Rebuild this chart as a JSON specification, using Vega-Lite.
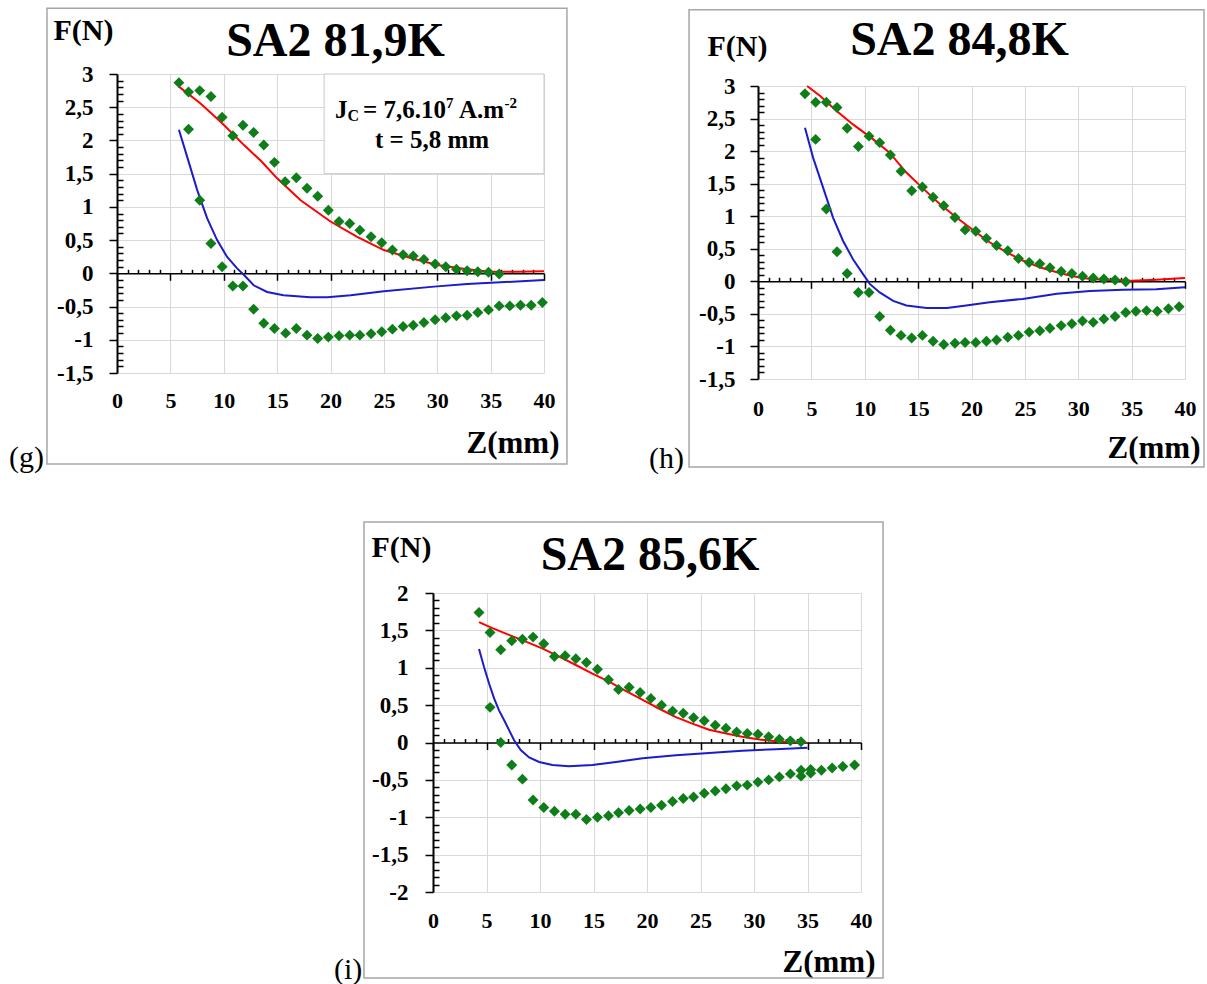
{
"$schema": "https://vega.github.io/schema/vega-lite/v6.json",
"background": "white",
"padding": {"left": 8, "top": 7, "right": 2, "bottom": 2},
"config": {"view": {"stroke": null}},
"datasets": {
"one": [{}],
"gp": [
{"z":5.8,"f":2.87},{"z":6.7,"f":2.73},{"z":7.75,"f":2.75},{"z":8.8,"f":2.66},{"z":9.85,"f":2.35},{"z":10.85,"f":2.07},{"z":11.8,"f":2.23},{"z":12.8,"f":2.12},{"z":13.75,"f":1.93},{"z":14.75,"f":1.67},{"z":15.75,"f":1.38},{"z":16.8,"f":1.44},{"z":17.8,"f":1.28},{"z":18.8,"f":1.16},{"z":19.8,"f":0.95},{"z":20.8,"f":0.78},{"z":21.8,"f":0.75},{"z":22.75,"f":0.65},{"z":23.8,"f":0.55},{"z":24.8,"f":0.46},{"z":25.8,"f":0.35},{"z":26.8,"f":0.28},{"z":27.75,"f":0.26},{"z":28.75,"f":0.21},{"z":29.8,"f":0.14},{"z":30.8,"f":0.1},{"z":31.8,"f":0.06},{"z":32.8,"f":0.04},{"z":33.8,"f":0.025},{"z":34.8,"f":0.015},{"z":35.8,"f":-0.01},
{"z":6.7,"f":2.17},{"z":7.75,"f":1.1},{"z":8.8,"f":0.45},{"z":9.85,"f":0.1},{"z":10.85,"f":-0.19},{"z":11.8,"f":-0.19},{"z":12.8,"f":-0.54},{"z":13.75,"f":-0.75},{"z":14.75,"f":-0.83},{"z":15.8,"f":-0.9},{"z":16.8,"f":-0.83},{"z":17.8,"f":-0.93},{"z":18.8,"f":-0.98},{"z":19.8,"f":-0.96},{"z":20.8,"f":-0.94},{"z":21.8,"f":-0.93},{"z":22.75,"f":-0.93},{"z":23.8,"f":-0.91},{"z":24.8,"f":-0.88},{"z":25.8,"f":-0.84},{"z":26.8,"f":-0.8},{"z":27.75,"f":-0.78},{"z":28.75,"f":-0.74},{"z":29.8,"f":-0.7},{"z":30.8,"f":-0.67},{"z":31.8,"f":-0.64},{"z":32.8,"f":-0.63},{"z":33.8,"f":-0.59},{"z":34.8,"f":-0.55},{"z":35.8,"f":-0.49},{"z":36.8,"f":-0.49},{"z":37.8,"f":-0.48},{"z":38.8,"f":-0.48},{"z":39.85,"f":-0.44}
],
"gl": [
{"z":5.8,"f":2.81,"c":"rouge"},{"z":7.8,"f":2.56,"c":"rouge"},{"z":9.85,"f":2.26,"c":"rouge"},{"z":11.9,"f":1.93,"c":"rouge"},{"z":13.5,"f":1.69,"c":"rouge"},{"z":15,"f":1.43,"c":"rouge"},{"z":17.2,"f":1.1,"c":"rouge"},{"z":20,"f":0.78,"c":"rouge"},{"z":22.5,"f":0.55,"c":"rouge"},{"z":25,"f":0.35,"c":"rouge"},{"z":27.5,"f":0.23,"c":"rouge"},{"z":30,"f":0.125,"c":"rouge"},{"z":32.8,"f":0.06,"c":"rouge"},{"z":35,"f":0.025,"c":"rouge"},{"z":37.5,"f":0.025,"c":"rouge"},{"z":40,"f":0.03,"c":"rouge"},
{"z":5.8,"f":2.16,"c":"bleu"},{"z":6.56,"f":1.76,"c":"bleu"},{"z":7.5,"f":1.26,"c":"bleu"},{"z":8.44,"f":0.83,"c":"bleu"},{"z":9.38,"f":0.5,"c":"bleu"},{"z":10.3,"f":0.25,"c":"bleu"},{"z":11.25,"f":0.075,"c":"bleu"},{"z":11.9,"f":-0.025,"c":"bleu"},{"z":12.8,"f":-0.18,"c":"bleu"},{"z":14.06,"f":-0.28,"c":"bleu"},{"z":15.6,"f":-0.33,"c":"bleu"},{"z":18.1,"f":-0.36,"c":"bleu"},{"z":19.7,"f":-0.36,"c":"bleu"},{"z":21.9,"f":-0.33,"c":"bleu"},{"z":25,"f":-0.27,"c":"bleu"},{"z":29.7,"f":-0.2,"c":"bleu"},{"z":32.8,"f":-0.16,"c":"bleu"},{"z":35.9,"f":-0.135,"c":"bleu"},{"z":40,"f":-0.1,"c":"bleu"}
],
"hp": [
{"z":4.4,"f":2.88},{"z":5.4,"f":2.75},{"z":6.4,"f":2.75},{"z":7.4,"f":2.67},{"z":8.35,"f":2.35},{"z":9.4,"f":2.07},{"z":10.4,"f":2.23},{"z":11.4,"f":2.13},{"z":12.4,"f":1.94},{"z":13.4,"f":1.69},{"z":14.4,"f":1.39},{"z":15.4,"f":1.45},{"z":16.4,"f":1.29},{"z":17.4,"f":1.16},{"z":18.45,"f":0.98},{"z":19.4,"f":0.79},{"z":20.4,"f":0.77},{"z":21.4,"f":0.66},{"z":22.35,"f":0.55},{"z":23.4,"f":0.47},{"z":24.4,"f":0.35},{"z":25.4,"f":0.29},{"z":26.4,"f":0.27},{"z":27.35,"f":0.21},{"z":28.4,"f":0.15},{"z":29.4,"f":0.12},{"z":30.4,"f":0.077},{"z":31.4,"f":0.05},{"z":32.4,"f":0.036},{"z":33.45,"f":0.02},{"z":34.45,"f":-0.005},
{"z":5.4,"f":2.18},{"z":6.4,"f":1.11},{"z":7.4,"f":0.455},{"z":8.35,"f":0.12},{"z":9.4,"f":-0.17},{"z":10.4,"f":-0.17},{"z":11.4,"f":-0.54},{"z":12.4,"f":-0.75},{"z":13.4,"f":-0.83},{"z":14.4,"f":-0.87},{"z":15.4,"f":-0.83},{"z":16.4,"f":-0.92},{"z":17.4,"f":-0.97},{"z":18.45,"f":-0.95},{"z":19.4,"f":-0.94},{"z":20.4,"f":-0.94},{"z":21.4,"f":-0.92},{"z":22.35,"f":-0.9},{"z":23.4,"f":-0.86},{"z":24.4,"f":-0.83},{"z":25.4,"f":-0.78},{"z":26.4,"f":-0.76},{"z":27.35,"f":-0.72},{"z":28.4,"f":-0.68},{"z":29.4,"f":-0.65},{"z":30.4,"f":-0.61},{"z":31.4,"f":-0.63},{"z":32.4,"f":-0.58},{"z":33.45,"f":-0.54},{"z":34.45,"f":-0.48},{"z":35.4,"f":-0.46},{"z":36.4,"f":-0.45},{"z":37.4,"f":-0.46},{"z":38.45,"f":-0.42},{"z":39.45,"f":-0.39}
],
"hl": [
{"z":4.6,"f":3.0,"c":"rouge"},{"z":5.8,"f":2.85,"c":"rouge"},{"z":7.34,"f":2.62,"c":"rouge"},{"z":8.9,"f":2.41,"c":"rouge"},{"z":10.8,"f":2.18,"c":"rouge"},{"z":12.3,"f":1.98,"c":"rouge"},{"z":13.9,"f":1.67,"c":"rouge"},{"z":15.5,"f":1.42,"c":"rouge"},{"z":17,"f":1.19,"c":"rouge"},{"z":18.6,"f":0.98,"c":"rouge"},{"z":20.2,"f":0.78,"c":"rouge"},{"z":21.7,"f":0.6,"c":"rouge"},{"z":23.3,"f":0.445,"c":"rouge"},{"z":24.8,"f":0.32,"c":"rouge"},{"z":26.4,"f":0.215,"c":"rouge"},{"z":28,"f":0.14,"c":"rouge"},{"z":29.5,"f":0.077,"c":"rouge"},{"z":31.1,"f":0.036,"c":"rouge"},{"z":32.7,"f":0.02,"c":"rouge"},{"z":35,"f":0.01,"c":"rouge"},{"z":37.3,"f":0.025,"c":"rouge"},{"z":40,"f":0.05,"c":"rouge"},
{"z":4.4,"f":2.36,"c":"bleu"},{"z":5.16,"f":1.9,"c":"bleu"},{"z":6.1,"f":1.44,"c":"bleu"},{"z":7.03,"f":0.98,"c":"bleu"},{"z":7.97,"f":0.62,"c":"bleu"},{"z":8.9,"f":0.34,"c":"bleu"},{"z":9.84,"f":0.11,"c":"bleu"},{"z":10.47,"f":-0.04,"c":"bleu"},{"z":11.4,"f":-0.17,"c":"bleu"},{"z":12.66,"f":-0.3,"c":"bleu"},{"z":13.9,"f":-0.37,"c":"bleu"},{"z":15.8,"f":-0.41,"c":"bleu"},{"z":17.7,"f":-0.41,"c":"bleu"},{"z":19.5,"f":-0.37,"c":"bleu"},{"z":21.7,"f":-0.32,"c":"bleu"},{"z":24.8,"f":-0.27,"c":"bleu"},{"z":28,"f":-0.19,"c":"bleu"},{"z":31.1,"f":-0.15,"c":"bleu"},{"z":34.2,"f":-0.13,"c":"bleu"},{"z":37.3,"f":-0.12,"c":"bleu"},{"z":40,"f":-0.09,"c":"bleu"}
],
"ip": [
{"z":4.3,"f":1.74},{"z":5.33,"f":1.47},{"z":6.33,"f":1.24},{"z":7.36,"f":1.36},{"z":8.36,"f":1.38},{"z":9.35,"f":1.41},{"z":10.35,"f":1.32},{"z":11.35,"f":1.15},{"z":12.35,"f":1.16},{"z":13.35,"f":1.12},{"z":14.34,"f":1.07},{"z":15.37,"f":0.98},{"z":16.4,"f":0.84},{"z":17.34,"f":0.71},{"z":18.33,"f":0.74},{"z":19.36,"f":0.67},{"z":20.36,"f":0.59},{"z":21.36,"f":0.5},{"z":22.39,"f":0.42},{"z":23.39,"f":0.39},{"z":24.35,"f":0.33},{"z":25.35,"f":0.29},{"z":26.38,"f":0.23},{"z":27.38,"f":0.19},{"z":28.38,"f":0.14},{"z":29.37,"f":0.12},{"z":30.37,"f":0.11},{"z":31.37,"f":0.076},{"z":32.37,"f":0.045},{"z":33.4,"f":0.022},{"z":34.39,"f":0.009},
{"z":5.33,"f":0.47},{"z":6.33,"f":0.0},{"z":7.36,"f":-0.3},{"z":8.36,"f":-0.49},{"z":9.35,"f":-0.77},{"z":10.35,"f":-0.87},{"z":11.35,"f":-0.92},{"z":12.35,"f":-0.96},{"z":13.35,"f":-0.96},{"z":14.34,"f":-1.03},{"z":15.37,"f":-1.0},{"z":16.4,"f":-0.98},{"z":17.34,"f":-0.94},{"z":18.33,"f":-0.91},{"z":19.36,"f":-0.89},{"z":20.36,"f":-0.87},{"z":21.36,"f":-0.84},{"z":22.39,"f":-0.79},{"z":23.39,"f":-0.75},{"z":24.35,"f":-0.73},{"z":25.35,"f":-0.68},{"z":26.38,"f":-0.65},{"z":27.38,"f":-0.62},{"z":28.38,"f":-0.58},{"z":29.37,"f":-0.57},{"z":30.37,"f":-0.53},{"z":31.37,"f":-0.5},{"z":32.37,"f":-0.46},{"z":33.4,"f":-0.42},{"z":34.4,"f":-0.45},{"z":34.4,"f":-0.37},{"z":35.3,"f":-0.41},{"z":35.3,"f":-0.36},{"z":36.3,"f":-0.37},{"z":37.3,"f":-0.34},{"z":38.3,"f":-0.32},{"z":39.4,"f":-0.3}
],
"il": [
{"z":4.3,"f":1.61,"c":"rouge"},{"z":5.55,"f":1.53,"c":"rouge"},{"z":7.1,"f":1.44,"c":"rouge"},{"z":8.67,"f":1.35,"c":"rouge"},{"z":10.2,"f":1.26,"c":"rouge"},{"z":11.8,"f":1.15,"c":"rouge"},{"z":13.3,"f":1.04,"c":"rouge"},{"z":14.9,"f":0.92,"c":"rouge"},{"z":16.5,"f":0.81,"c":"rouge"},{"z":18,"f":0.69,"c":"rouge"},{"z":19.6,"f":0.57,"c":"rouge"},{"z":21.1,"f":0.455,"c":"rouge"},{"z":22.7,"f":0.34,"c":"rouge"},{"z":24.3,"f":0.25,"c":"rouge"},{"z":25.8,"f":0.17,"c":"rouge"},{"z":27.4,"f":0.12,"c":"rouge"},{"z":28.9,"f":0.076,"c":"rouge"},{"z":30.5,"f":0.04,"c":"rouge"},{"z":32.05,"f":0.018,"c":"rouge"},{"z":33.6,"f":0.005,"c":"rouge"},{"z":35,"f":-0.005,"c":"rouge"},
{"z":4.3,"f":1.25,"c":"bleu"},{"z":4.77,"f":1.01,"c":"bleu"},{"z":5.24,"f":0.79,"c":"bleu"},{"z":5.71,"f":0.59,"c":"bleu"},{"z":6.17,"f":0.43,"c":"bleu"},{"z":6.64,"f":0.3,"c":"bleu"},{"z":7.11,"f":0.165,"c":"bleu"},{"z":7.58,"f":0.03,"c":"bleu"},{"z":8.2,"f":-0.1,"c":"bleu"},{"z":8.98,"f":-0.2,"c":"bleu"},{"z":9.92,"f":-0.26,"c":"bleu"},{"z":11.16,"f":-0.3,"c":"bleu"},{"z":12.7,"f":-0.317,"c":"bleu"},{"z":14.9,"f":-0.3,"c":"bleu"},{"z":17.1,"f":-0.26,"c":"bleu"},{"z":19.6,"f":-0.21,"c":"bleu"},{"z":22.7,"f":-0.17,"c":"bleu"},{"z":25.8,"f":-0.14,"c":"bleu"},{"z":28.9,"f":-0.11,"c":"bleu"},{"z":32.05,"f":-0.09,"c":"bleu"},{"z":35,"f":-0.07,"c":"bleu"}
]
},
"bounds": "flush",
"spacing": 519,
"vconcat": [
{"bounds": "flush", "spacing": 214, "hconcat": [
{
"width": 427, "height": 299,
"title": {"text": "SA2 81,9K", "font": "Liberation Serif", "fontSize": 48, "fontWeight": "bold", "color": "black", "anchor": "middle", "frame": "group", "baseline": "alphabetic", "offset": -97, "dx": 5},
"resolve": {"axis": {"x": "independent", "y": "independent"}},
"layer": [
{"data": {"name": "one"}, "mark": {"type": "rect", "filled": false, "stroke": "#a6a6a6", "strokeWidth": 1.5},
 "encoding": {
  "x": {"datum": -6.56, "type": "quantitative", "scale": {"domain": [0, 40], "nice": false}, "axis": null},
  "x2": {"datum": 42.15},
  "y": {"datum": 3.99, "type": "quantitative", "scale": {"domain": [-1.5, 3], "nice": false}, "axis": null},
  "y2": {"datum": -2.87}}},
{"data": {"name": "one"}, "mark": {"type": "rect", "fill": "white", "stroke": "#c8c8c8", "strokeWidth": 1},
 "encoding": {
  "x": {"datum": 19.4, "type": "quantitative", "scale": {"domain": [0, 40], "nice": false}, "axis": null},
  "x2": {"datum": 40},
  "y": {"datum": 3, "type": "quantitative", "scale": {"domain": [-1.5, 3], "nice": false}, "axis": null},
  "y2": {"datum": 1.5}}},
{"data": {"name": "gl"},
 "mark": {"type": "line", "strokeWidth": 2},
 "encoding": {
  "x": {"field": "z", "type": "quantitative", "scale": {"domain": [0, 40], "nice": false},
   "axis": {"orient": "bottom", "offset": -99.7, "values": [0,1,2,3,4,5,6,7,8,9,10,11,12,13,14,15,16,17,18,19,20,21,22,23,24,25,26,27,28,29,30,31,32,33,34,35,36,37,38,39,40], "labels": false, "grid": false, "title": null, "domain": true, "domainColor": "black", "domainWidth": 1.5, "ticks": true, "tickColor": "black", "tickWidth": 1.5, "tickSize": {"condition": {"test": "datum.value % 5 === 0", "value": 7}, "value": -4}}},
  "y": {"field": "f", "type": "quantitative", "scale": {"domain": [-1.5, 3], "nice": false}, "axis": null},
  "color": {"field": "c", "type": "nominal", "scale": {"domain": ["rouge", "bleu"], "range": ["#ff0000", "#1c1cc8"]}, "legend": null}}},
{"data": {"name": "gp"},
 "mark": {"type": "point", "shape": "diamond", "filled": true, "color": "#0f7d1a", "size": 120, "opacity": 1},
 "encoding": {
  "x": {"field": "z", "type": "quantitative", "scale": {"domain": [0, 40], "nice": false},
   "axis": {"orient": "bottom", "values": [0,5,10,15,20,25,30,35,40], "domain": false, "ticks": false, "grid": true, "gridColor": "#d9d9d9", "gridWidth": 1, "labelFont": "Liberation Serif", "labelFontSize": 22, "labelFontWeight": "bold", "labelColor": "black", "labelPadding": 17, "labelFlush": false, "labelOverlap": false, "title": "Z(mm)", "titleFont": "Liberation Serif", "titleFontSize": 31, "titleFontWeight": "bold", "titleColor": "black", "titleX": 442, "titleY": 70, "titleAlign": "right", "titleBaseline": "middle"}},
  "y": {"field": "f", "type": "quantitative", "scale": {"domain": [-1.5, 3], "nice": false},
   "axis": {"orient": "left", "values": [-1.5,-1.4,-1.3,-1.2,-1.1,-1,-0.9,-0.8,-0.7,-0.6,-0.5,-0.4,-0.3,-0.2,-0.1,0,0.1,0.2,0.3,0.4,0.5,0.6,0.7,0.8,0.9,1,1.1,1.2,1.3,1.4,1.5,1.6,1.7,1.8,1.9,2,2.1,2.2,2.3,2.4,2.5,2.6,2.7,2.8,2.9,3], "domain": true, "domainColor": "black", "domainWidth": 2, "ticks": true, "tickColor": "black", "tickWidth": 1.5, "tickSize": {"condition": {"test": "abs(datum.value*2 - round(datum.value*2)) < 0.01", "value": 8}, "value": -6}, "grid": true, "gridColor": "#d9d9d9", "gridOpacity": {"condition": {"test": "abs(datum.value*2 - round(datum.value*2)) < 0.01", "value": 1}, "value": 0}, "labelExpr": "abs(datum.value*2 - round(datum.value*2)) < 0.01 ? replace(toString(round(datum.value*10)/10), '.', ',') : ''", "labelFont": "Liberation Serif", "labelFontSize": 23, "labelFontWeight": "bold", "labelColor": "black", "labelPadding": 16, "labelOverlap": false, "labelFlush": false, "title": "F(N)", "titleAngle": 0, "titleAlign": "left", "titleBaseline": "middle", "titleX": -64, "titleY": -44, "titleFont": "Liberation Serif", "titleFontSize": 30, "titleFontWeight": "bold", "titleColor": "black"}}}},
{"data": {"name": "one"}, "mark": {"type": "text", "font": "Liberation Serif", "fontSize": 30, "align": "left", "baseline": "middle", "color": "black"},
 "encoding": {"x": {"datum": -10.12, "type": "quantitative", "scale": {"domain": [0, 40], "nice": false}, "axis": null}, "y": {"datum": -2.78, "type": "quantitative", "scale": {"domain": [-1.5, 3], "nice": false}, "axis": null}, "text": {"value": "(g)"}}},
{"data": {"name": "one"}, "mark": {"type": "text", "font": "Liberation Serif", "fontSize": 25, "fontWeight": "bold", "align": "left", "baseline": "middle", "color": "black"},
 "encoding": {"x": {"datum": 20.42, "type": "quantitative", "scale": {"domain": [0, 40], "nice": false}, "axis": null}, "y": {"datum": 2.458, "type": "quantitative", "scale": {"domain": [-1.5, 3], "nice": false}, "axis": null}, "text": {"value": "J"}}},
{"data": {"name": "one"}, "mark": {"type": "text", "font": "Liberation Serif", "fontSize": 16, "fontWeight": "bold", "align": "left", "baseline": "middle", "color": "black", "dy": 6},
 "encoding": {"x": {"datum": 21.59, "type": "quantitative", "scale": {"domain": [0, 40], "nice": false}, "axis": null}, "y": {"datum": 2.458, "type": "quantitative", "scale": {"domain": [-1.5, 3], "nice": false}, "axis": null}, "text": {"value": "C"}}},
{"data": {"name": "one"}, "mark": {"type": "text", "font": "Liberation Serif", "fontSize": 25, "fontWeight": "bold", "align": "left", "baseline": "middle", "color": "black"},
 "encoding": {"x": {"datum": 23.04, "type": "quantitative", "scale": {"domain": [0, 40], "nice": false}, "axis": null}, "y": {"datum": 2.458, "type": "quantitative", "scale": {"domain": [-1.5, 3], "nice": false}, "axis": null}, "text": {"value": "= 7,6.10"}}},
{"data": {"name": "one"}, "mark": {"type": "text", "font": "Liberation Serif", "fontSize": 15, "fontWeight": "bold", "align": "left", "baseline": "middle", "color": "black", "dy": -7},
 "encoding": {"x": {"datum": 30.82, "type": "quantitative", "scale": {"domain": [0, 40], "nice": false}, "axis": null}, "y": {"datum": 2.458, "type": "quantitative", "scale": {"domain": [-1.5, 3], "nice": false}, "axis": null}, "text": {"value": "7"}}},
{"data": {"name": "one"}, "mark": {"type": "text", "font": "Liberation Serif", "fontSize": 25, "fontWeight": "bold", "align": "left", "baseline": "middle", "color": "black"},
 "encoding": {"x": {"datum": 32.04, "type": "quantitative", "scale": {"domain": [0, 40], "nice": false}, "axis": null}, "y": {"datum": 2.458, "type": "quantitative", "scale": {"domain": [-1.5, 3], "nice": false}, "axis": null}, "text": {"value": "A.m"}}},
{"data": {"name": "one"}, "mark": {"type": "text", "font": "Liberation Serif", "fontSize": 15, "fontWeight": "bold", "align": "left", "baseline": "middle", "color": "black", "dy": -7},
 "encoding": {"x": {"datum": 36.3, "type": "quantitative", "scale": {"domain": [0, 40], "nice": false}, "axis": null}, "y": {"datum": 2.458, "type": "quantitative", "scale": {"domain": [-1.5, 3], "nice": false}, "axis": null}, "text": {"value": "-2"}}},
{"data": {"name": "one"}, "mark": {"type": "text", "font": "Liberation Serif", "fontSize": 25, "fontWeight": "bold", "align": "center", "baseline": "middle", "color": "black"},
 "encoding": {"x": {"datum": 29.51, "type": "quantitative", "scale": {"domain": [0, 40], "nice": false}, "axis": null}, "y": {"datum": 2.007, "type": "quantitative", "scale": {"domain": [-1.5, 3], "nice": false}, "axis": null}, "text": {"value": "t = 5,8 mm"}}}
]
},
{"bounds": "flush", "spacing": 11, "vconcat": [
{"width": 1, "height": 1, "data": {"values": []}, "mark": "point", "encoding": {}},
{
"width": 427, "height": 293,
"title": {"text": "SA2 84,8K", "font": "Liberation Serif", "fontSize": 48, "fontWeight": "bold", "color": "black", "anchor": "middle", "frame": "group", "baseline": "alphabetic", "offset": -94, "dx": -12},
"resolve": {"axis": {"x": "independent", "y": "independent"}},
"layer": [
{"data": {"name": "one"}, "mark": {"type": "rect", "filled": false, "stroke": "#a6a6a6", "strokeWidth": 1.5},
 "encoding": {
  "x": {"datum": -6.46, "type": "quantitative", "scale": {"domain": [0, 40], "nice": false}, "axis": null},
  "x2": {"datum": 41.78},
  "y": {"datum": 4.17, "type": "quantitative", "scale": {"domain": [-1.5, 3], "nice": false}, "axis": null},
  "y2": {"datum": -2.85}}},
{"data": {"name": "hl"},
 "mark": {"type": "line", "strokeWidth": 2},
 "encoding": {
  "x": {"field": "z", "type": "quantitative", "scale": {"domain": [0, 40], "nice": false},
   "axis": {"orient": "bottom", "offset": -97.7, "values": [0,1,2,3,4,5,6,7,8,9,10,11,12,13,14,15,16,17,18,19,20,21,22,23,24,25,26,27,28,29,30,31,32,33,34,35,36,37,38,39,40], "labels": false, "grid": false, "title": null, "domain": true, "domainColor": "black", "domainWidth": 1.5, "ticks": true, "tickColor": "black", "tickWidth": 1.5, "tickSize": {"condition": {"test": "datum.value % 5 === 0", "value": 7}, "value": -4}}},
  "y": {"field": "f", "type": "quantitative", "scale": {"domain": [-1.5, 3], "nice": false}, "axis": null},
  "color": {"field": "c", "type": "nominal", "scale": {"domain": ["rouge", "bleu"], "range": ["#ff0000", "#1c1cc8"]}, "legend": null}}},
{"data": {"name": "hp"},
 "mark": {"type": "point", "shape": "diamond", "filled": true, "color": "#0f7d1a", "size": 120, "opacity": 1},
 "encoding": {
  "x": {"field": "z", "type": "quantitative", "scale": {"domain": [0, 40], "nice": false},
   "axis": {"orient": "bottom", "values": [0,5,10,15,20,25,30,35,40], "domain": false, "ticks": false, "grid": true, "gridColor": "#d9d9d9", "gridWidth": 1, "labelFont": "Liberation Serif", "labelFontSize": 22, "labelFontWeight": "bold", "labelColor": "black", "labelPadding": 19, "labelFlush": false, "labelOverlap": false, "title": "Z(mm)", "titleFont": "Liberation Serif", "titleFontSize": 31, "titleFontWeight": "bold", "titleColor": "black", "titleX": 442, "titleY": 69, "titleAlign": "right", "titleBaseline": "middle"}},
  "y": {"field": "f", "type": "quantitative", "scale": {"domain": [-1.5, 3], "nice": false},
   "axis": {"orient": "left", "values": [-1.5,-1.4,-1.3,-1.2,-1.1,-1,-0.9,-0.8,-0.7,-0.6,-0.5,-0.4,-0.3,-0.2,-0.1,0,0.1,0.2,0.3,0.4,0.5,0.6,0.7,0.8,0.9,1,1.1,1.2,1.3,1.4,1.5,1.6,1.7,1.8,1.9,2,2.1,2.2,2.3,2.4,2.5,2.6,2.7,2.8,2.9,3], "domain": true, "domainColor": "black", "domainWidth": 2, "ticks": true, "tickColor": "black", "tickWidth": 1.5, "tickSize": {"condition": {"test": "abs(datum.value*2 - round(datum.value*2)) < 0.01", "value": 8}, "value": -6}, "grid": true, "gridColor": "#d9d9d9", "gridOpacity": {"condition": {"test": "abs(datum.value*2 - round(datum.value*2)) < 0.01", "value": 1}, "value": 0}, "labelExpr": "abs(datum.value*2 - round(datum.value*2)) < 0.01 ? replace(toString(round(datum.value*10)/10), '.', ',') : ''", "labelFont": "Liberation Serif", "labelFontSize": 23, "labelFontWeight": "bold", "labelColor": "black", "labelPadding": 15, "labelOverlap": false, "labelFlush": false, "title": "F(N)", "titleAngle": 0, "titleAlign": "left", "titleBaseline": "middle", "titleX": -51, "titleY": -40, "titleFont": "Liberation Serif", "titleFontSize": 30, "titleFontWeight": "bold", "titleColor": "black"}}}},
{"data": {"name": "one"}, "mark": {"type": "text", "font": "Liberation Serif", "fontSize": 30, "align": "left", "baseline": "middle", "color": "black"},
 "encoding": {"x": {"datum": -10.2, "type": "quantitative", "scale": {"domain": [0, 40], "nice": false}, "axis": null}, "y": {"datum": -2.73, "type": "quantitative", "scale": {"domain": [-1.5, 3], "nice": false}, "axis": null}, "text": {"value": "(h)"}}}
]
}
]}
]},
{"bounds": "flush", "spacing": 315, "hconcat": [
{"width": 1, "height": 1, "data": {"values": []}, "mark": "point", "encoding": {}},
{
"width": 428, "height": 299,
"title": {"text": "SA2 85,6K", "font": "Liberation Serif", "fontSize": 48, "fontWeight": "bold", "color": "black", "anchor": "middle", "frame": "group", "baseline": "alphabetic", "offset": -97, "dx": 3},
"resolve": {"axis": {"x": "independent", "y": "independent"}},
"layer": [
{"data": {"name": "one"}, "mark": {"type": "rect", "filled": false, "stroke": "#a6a6a6", "strokeWidth": 1.5},
 "encoding": {
  "x": {"datum": -6.45, "type": "quantitative", "scale": {"domain": [0, 40], "nice": false}, "axis": null},
  "x2": {"datum": 42.06},
  "y": {"datum": 2.95, "type": "quantitative", "scale": {"domain": [-2, 2], "nice": false}, "axis": null},
  "y2": {"datum": -3.15}}},
{"data": {"name": "il"},
 "mark": {"type": "line", "strokeWidth": 2},
 "encoding": {
  "x": {"field": "z", "type": "quantitative", "scale": {"domain": [0, 40], "nice": false},
   "axis": {"orient": "bottom", "offset": -149.5, "values": [0,1,2,3,4,5,6,7,8,9,10,11,12,13,14,15,16,17,18,19,20,21,22,23,24,25,26,27,28,29,30,31,32,33,34,35,36,37,38,39,40], "labels": false, "grid": false, "title": null, "domain": true, "domainColor": "black", "domainWidth": 1.5, "ticks": true, "tickColor": "black", "tickWidth": 1.5, "tickSize": {"condition": {"test": "datum.value % 5 === 0", "value": 7}, "value": -4}}},
  "y": {"field": "f", "type": "quantitative", "scale": {"domain": [-2, 2], "nice": false}, "axis": null},
  "color": {"field": "c", "type": "nominal", "scale": {"domain": ["rouge", "bleu"], "range": ["#ff0000", "#1c1cc8"]}, "legend": null}}},
{"data": {"name": "ip"},
 "mark": {"type": "point", "shape": "diamond", "filled": true, "color": "#0f7d1a", "size": 120, "opacity": 1},
 "encoding": {
  "x": {"field": "z", "type": "quantitative", "scale": {"domain": [0, 40], "nice": false},
   "axis": {"orient": "bottom", "values": [0,5,10,15,20,25,30,35,40], "domain": false, "ticks": false, "grid": true, "gridColor": "#d9d9d9", "gridWidth": 1, "labelFont": "Liberation Serif", "labelFontSize": 22, "labelFontWeight": "bold", "labelColor": "black", "labelPadding": 18, "labelFlush": false, "labelOverlap": false, "title": "Z(mm)", "titleFont": "Liberation Serif", "titleFontSize": 31, "titleFontWeight": "bold", "titleColor": "black", "titleX": 442, "titleY": 70, "titleAlign": "right", "titleBaseline": "middle"}},
  "y": {"field": "f", "type": "quantitative", "scale": {"domain": [-2, 2], "nice": false},
   "axis": {"orient": "left", "values": [-2,-1.9,-1.8,-1.7,-1.6,-1.5,-1.4,-1.3,-1.2,-1.1,-1,-0.9,-0.8,-0.7,-0.6,-0.5,-0.4,-0.3,-0.2,-0.1,0,0.1,0.2,0.3,0.4,0.5,0.6,0.7,0.8,0.9,1,1.1,1.2,1.3,1.4,1.5,1.6,1.7,1.8,1.9,2], "domain": true, "domainColor": "black", "domainWidth": 2, "ticks": true, "tickColor": "black", "tickWidth": 1.5, "tickSize": {"condition": {"test": "abs(datum.value*2 - round(datum.value*2)) < 0.01", "value": 8}, "value": -6}, "grid": true, "gridColor": "#d9d9d9", "gridOpacity": {"condition": {"test": "abs(datum.value*2 - round(datum.value*2)) < 0.01", "value": 1}, "value": 0}, "labelExpr": "abs(datum.value*2 - round(datum.value*2)) < 0.01 ? replace(toString(round(datum.value*10)/10), '.', ',') : ''", "labelFont": "Liberation Serif", "labelFontSize": 23, "labelFontWeight": "bold", "labelColor": "black", "labelPadding": 17, "labelOverlap": false, "labelFlush": false, "title": "F(N)", "titleAngle": 0, "titleAlign": "left", "titleBaseline": "middle", "titleX": -62, "titleY": -46, "titleFont": "Liberation Serif", "titleFontSize": 30, "titleFontWeight": "bold", "titleColor": "black"}}}},
{"data": {"name": "one"}, "mark": {"type": "text", "font": "Liberation Serif", "fontSize": 30, "align": "left", "baseline": "middle", "color": "black"},
 "encoding": {"x": {"datum": -9.25, "type": "quantitative", "scale": {"domain": [0, 40], "nice": false}, "axis": null}, "y": {"datum": -3.04, "type": "quantitative", "scale": {"domain": [-2, 2], "nice": false}, "axis": null}, "text": {"value": "(i)"}}}
]
}
]}
]
}
